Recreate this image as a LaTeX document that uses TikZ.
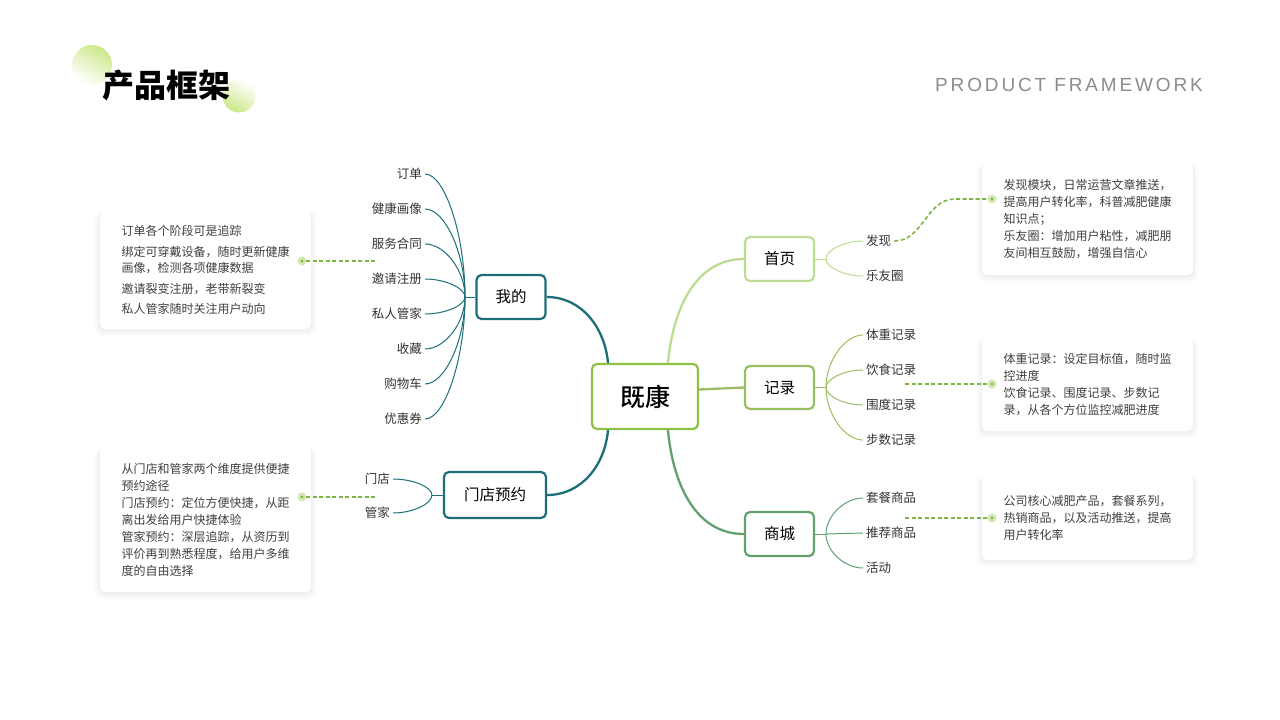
\documentclass[tikz,border=0pt]{standalone}
\usepackage{fontspec}
\setmainfont{Noto Sans CJK SC}
\newfontfamily\medfont{Noto Sans CJK SC Medium}
\newfontfamily\subfont[LetterSpace=15]{Liberation Sans}
\usepackage{tikz}
\usetikzlibrary{calc, shadows}
\definecolor{KangGreen}{HTML}{8DC044}
\definecolor{MineTeal}{HTML}{1C6F79}
\definecolor{HomeGreen}{HTML}{BCDC92}
\definecolor{RecordGreen}{HTML}{9ABF62}
\definecolor{MallGreen}{HTML}{63A06F}
\definecolor{LinkGreen}{HTML}{7DB443}
\definecolor{DotHalo}{HTML}{D3E9B4}
\definecolor{TitleGreen}{HTML}{CDE88A}
\definecolor{TextDark}{HTML}{333333}
\definecolor{NoteText}{HTML}{404040}
\definecolor{SubGray}{HTML}{8C8C8C}
\tikzset{
  topic/.style={draw, fill=white, rectangle, rounded corners=5pt, line width=2.2pt,
                minimum width=69pt, minimum height=44pt, inner sep=0pt,
                font=\fontsize{15.5}{18}\selectfont, text=black},
  core/.style={topic, draw=KangGreen, minimum width=106pt, minimum height=65pt,
               font=\medfont\fontsize{25}{28}\selectfont},
  leaf/.style={inner sep=3pt, font=\fontsize{12.5}{15}\selectfont, text=TextDark},
  note/.style={fill=white, rectangle, rounded corners=6pt, minimum width=211pt,
               inner sep=0pt, align=left, font=\fontsize{12}{17}\selectfont,
               text=NoteText,
               general shadow={fill=black, opacity=0.015, shadow yshift=-4pt,
                               shadow scale=1.05},
               general shadow={fill=black, opacity=0.02, shadow yshift=-3pt,
                               shadow scale=1.03},
               general shadow={fill=black, opacity=0.025, shadow yshift=-2pt,
                               shadow scale=1.012}},
  notedot/.style={circle, fill=LinkGreen, draw=DotHalo, line width=2.8pt,
                  minimum size=6pt, inner sep=0pt},
  branch/.style={line width=2.3pt},
  twig/.style={line width=1pt},
  twigcurve/.style={to path={.. controls ($(\tikztostart)!0.5!(\tikztostart -| \tikztotarget)$)
                    and ($(\tikztotarget)!0.5!(\tikztotarget |- \tikztostart)$) .. (\tikztotarget)}},
  dashlink/.style={draw=LinkGreen, line width=1.6pt, dash pattern=on 4pt off 2.5pt}
}

\begin{document}
\begin{tikzpicture}[x=1pt, y=1pt]
  \useasboundingbox (0,0) rectangle (1280,-720);
  \fill[white] (0,0) rectangle (1280,-720);

  % title
  \shade[left color=TitleGreen, right color=white, shading angle=-30] (92,-65) circle (20);
  \shade[left color=white, right color=TitleGreen, shading angle=-30] (239,-96) circle (16.5);
  \node[font=\fontsize{32}{36}\selectfont\bfseries, text=black] (title) at (166,-85) {产品框架};
  \node[anchor=east, inner sep=0pt, font=\subfont\fontsize{19}{22}\selectfont, text=SubGray]
    (subtitle) at (1203,-85) {PRODUCT FRAMEWORK};

  % main topics
  \node[core] (core) at (645,-396.5) {既康};
  \node[topic, draw=MineTeal] (mine) at (511,-297) {我的};
  \node[topic, draw=MineTeal, minimum width=102pt, minimum height=46pt] (store) at (495,-495) {门店预约};
  \node[topic, draw=HomeGreen] (home) at (779.5,-259) {首页};
  \node[topic, draw=RecordGreen, minimum height=43pt] (record) at (779.5,-387.5) {记录};
  \node[topic, draw=MallGreen] (mall) at (779.5,-534) {商城};

  \draw[branch, MineTeal] ([xshift=-37pt]core.north) to[out=95, in=0] (mine.east);
  \draw[branch, MineTeal] ([xshift=-37pt]core.south) to[out=-95, in=0] (store.east);
  \draw[branch, HomeGreen] ([xshift=23pt]core.north) to[out=85, in=180] (home.west);
  \draw[branch, RecordGreen] ([yshift=7pt]core.east) -- (record.west);
  \draw[branch, MallGreen] ([xshift=23pt]core.south) to[out=-85, in=180] (mall.west);

  % leaves of 我的
  \coordinate (minehub) at (465,-297);
  \node[leaf, anchor=east] (order) at (425,-174) {订单};
  \node[leaf, anchor=east] (portrait) at (425,-209) {健康画像};
  \node[leaf, anchor=east] (contract) at (425,-244) {服务合同};
  \node[leaf, anchor=east] (invite) at (425,-279) {邀请注册};
  \node[leaf, anchor=east] (butler) at (425,-314) {私人管家};
  \node[leaf, anchor=east] (favor) at (425,-349) {收藏};
  \node[leaf, anchor=east] (cart) at (425,-384) {购物车};
  \node[leaf, anchor=east] (coupon) at (425,-419) {优惠券};
  \draw[twig, MineTeal] (minehub) -- (mine.west);
  \draw[twig, MineTeal] (order.east) to[twigcurve] (minehub);
  \draw[twig, MineTeal] (portrait.east) to[twigcurve] (minehub);
  \draw[twig, MineTeal] (contract.east) to[twigcurve] (minehub);
  \draw[twig, MineTeal] (invite.east) to[twigcurve] (minehub);
  \draw[twig, MineTeal] (butler.east) to[twigcurve] (minehub);
  \draw[twig, MineTeal] (favor.east) to[twigcurve] (minehub);
  \draw[twig, MineTeal] (cart.east) to[twigcurve] (minehub);
  \draw[twig, MineTeal] (coupon.east) to[twigcurve] (minehub);

  % leaves of 门店预约
  \coordinate (storehub) at (432,-495);
  \node[leaf, anchor=east] (shop) at (393,-479) {门店};
  \node[leaf, anchor=east] (steward) at (393,-513) {管家};
  \draw[twig, MineTeal] (storehub) -- (store.west);
  \draw[twig, MineTeal] (shop.east) to[twigcurve] (storehub);
  \draw[twig, MineTeal] (steward.east) to[twigcurve] (storehub);

  % leaves of 首页
  \coordinate (homehub) at (826,-259);
  \node[leaf, anchor=west] (find) at (863,-241) {发现};
  \node[leaf, anchor=west] (friends) at (863,-276) {乐友圈};
  \draw[twig, HomeGreen] (home.east) -- (homehub);
  \draw[twig, HomeGreen] (find.west) to[twigcurve] (homehub);
  \draw[twig, HomeGreen] (friends.west) to[twigcurve] (homehub);

  % leaves of 记录
  \coordinate (recordhub) at (826,-387.5);
  \node[leaf, anchor=west] (weight) at (863,-335) {体重记录};
  \node[leaf, anchor=west] (diet) at (863,-370) {饮食记录};
  \node[leaf, anchor=west] (girth) at (863,-405) {围度记录};
  \node[leaf, anchor=west] (steps) at (863,-440) {步数记录};
  \draw[twig, RecordGreen] (record.east) -- (recordhub);
  \draw[twig, RecordGreen] (weight.west) to[twigcurve] (recordhub);
  \draw[twig, RecordGreen] (diet.west) to[twigcurve] (recordhub);
  \draw[twig, RecordGreen] (girth.west) to[twigcurve] (recordhub);
  \draw[twig, RecordGreen] (steps.west) to[twigcurve] (recordhub);

  % leaves of 商城
  \coordinate (mallhub) at (826,-534);
  \node[leaf, anchor=west] (combo) at (863,-498) {套餐商品};
  \node[leaf, anchor=west] (recommend) at (863,-533) {推荐商品};
  \node[leaf, anchor=west] (event) at (863,-568) {活动};
  \draw[twig, MallGreen] (mall.east) -- (mallhub);
  \draw[twig, MallGreen] (combo.west) to[twigcurve] (mallhub);
  \draw[twig, MallGreen] (recommend.west) -- (mallhub);
  \draw[twig, MallGreen] (event.west) to[twigcurve] (mallhub);

  % notes
  \node[note, minimum height=118pt] (minenote) at (205.5,-270)
    {订单各个阶段可是追踪\\[3.5pt]
     绑定可穿戴设备，随时更新健康\\[-0.5pt]画像，检测各项健康数据\\[3.5pt]
     邀请裂变注册，老带新裂变\\[3.5pt]
     私人管家随时关注用户动向};
  \node[note, minimum height=144pt] (storenote) at (205.5,-520)
    {从门店和管家两个维度提供便捷\\预约途径\\
     门店预约：定位方便快捷，从距\\离出发给用户快捷体验\\
     管家预约：深层追踪，从资历到\\评价再到熟悉程度，给用户多维\\度的自由选择};
  \node[note, minimum height=111pt] (homenote) at (1087.5,-219.5)
    {发现模块，日常运营文章推送，\\提高用户转化率，科普减肥健康\\知识点；\\
     乐友圈：增加用户粘性，减肥朋\\友间相互鼓励，增强自信心};
  \node[note, minimum height=93pt] (recordnote) at (1087.5,-384.5)
    {体重记录：设定目标值，随时监\\控进度\\
     饮食记录、围度记录、步数记\\录，从各个方位监控减肥进度};
  \node[note, minimum height=85pt] (mallnote) at (1087.5,-517.5)
    {公司核心减肥产品，套餐系列，\\热销商品，以及活动推送，提高\\用户转化率};

  % dashed links
  \coordinate (minefree) at (376,-261);
  \coordinate (storefree) at (376,-497);
  \coordinate (findbend) at (955,-199);
  \coordinate (recordfree) at (905,-384);
  \coordinate (mallfree) at (905,-518);
  \node[notedot] (minedot) at (302,-261) {};
  \node[notedot] (storedot) at (302,-497) {};
  \node[notedot] (homedot) at (992,-199) {};
  \node[notedot] (recorddot) at (992,-384) {};
  \node[notedot] (malldot) at (992,-518) {};
  \draw[dashlink] (minedot) -- (minefree);
  \draw[dashlink] (storedot) -- (storefree);
  \draw[dashlink] (find.east) to[out=0, in=180] (findbend) -- (homedot);
  \draw[dashlink] (recordfree) -- (recorddot);
  \draw[dashlink] (mallfree) -- (malldot);
\end{tikzpicture}
\end{document}
